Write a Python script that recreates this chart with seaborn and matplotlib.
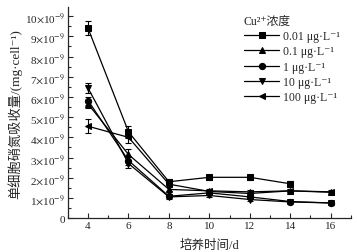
import numpy as np
import pandas as pd
import matplotlib
matplotlib.use("Agg")
import matplotlib.pyplot as plt
from matplotlib.ticker import MultipleLocator, FuncFormatter
import seaborn as sns

# --- Data (values in units of 1e-9 mg/cell) ---
days = [4, 6, 8, 10, 12, 14, 16]
conc_labels = ["0.01 μg·L⁻¹", "0.1 μg·L⁻¹", "1 μg·L⁻¹",
               "10 μg·L⁻¹", "100 μg·L⁻¹"]
c001 = [9.4, 4.27, 1.8, 2.02, 2.02, 1.7, np.nan]
c01 = [5.65, 3.15, 1.42, 1.35, 1.3, 1.35, 1.28]
c1 = [5.82, 2.85, 1.08, 1.25, 1.05, 0.82, 0.75]
c10 = [6.44, 2.7, 1.05, 1.12, 0.92, 0.8, 0.75]
c100 = [4.55, 4.0, 1.68, 1.32, 1.22, 1.35, 1.3]
err001 = [0.35, 0.3, 0.12, 0.12, 0.12, 0.12, 0]
err01 = [0.2, 0.25, 0.1, 0.1, 0.1, 0.08, 0.08]
err1 = [0.2, 0.2, 0.08, 0.08, 0.08, 0.08, 0.08]
err10 = [0.25, 0.2, 0.08, 0.08, 0.08, 0.08, 0.08]
err100 = [0.35, 0.3, 0.1, 0.08, 0.08, 0.08, 0.08]
markers = ["s", "^", "o", "v", "<"]

series = [c001, c01, c1, c10, c100]
errors = [err001, err01, err1, err10, err100]

rows = []
for lab, vals in zip(conc_labels, series):
    for d, v in zip(days, vals):
        if not np.isnan(v):
            rows.append({"day": d, "value": v, "conc": lab})
df = pd.DataFrame(rows)

sns.set_style("ticks")
plt.rcParams["font.family"] = ["Liberation Serif", "DejaVu Serif", "Noto Sans CJK SC"]
plt.rcParams["mathtext.fontset"] = "stix"
plt.rcParams["axes.unicode_minus"] = False

fig = plt.figure(figsize=(3.57, 2.53), dpi=100)
ax = fig.add_axes([0.19, 0.134, 0.793, 0.834])

for lab, vals, err in zip(conc_labels, series, errors):
    ax.errorbar(days, vals, yerr=err, fmt="none", ecolor="black",
                elinewidth=0.8, capsize=2.2, capthick=0.8, zorder=2)

sns.lineplot(data=df, x="day", y="value", hue="conc", style="conc",
             markers=dict(zip(conc_labels, markers)), dashes=False,
             palette=["black"] * 5, markersize=4.5, linewidth=0.9,
             markeredgecolor="black", ax=ax, zorder=3)

ax.set_xlim(3, 17)
ax.set_ylim(0, 10.45)
ax.xaxis.set_major_locator(MultipleLocator(2))
ax.xaxis.set_minor_locator(MultipleLocator(1))
ax.yaxis.set_major_locator(MultipleLocator(1))
ax.yaxis.set_minor_locator(MultipleLocator(0.5))
ax.yaxis.set_major_formatter(FuncFormatter(
    lambda v, p: "0" if v == 0 else r"%d$\times$10$^{-9}$" % round(v)))
ax.tick_params(which="both", direction="in", labelsize=8, width=0.8)
ax.tick_params(which="major", length=3.5, pad=2)
ax.tick_params(which="minor", length=2)
for s in ["top", "right"]:
    ax.spines[s].set_visible(False)
for s in ["left", "bottom"]:
    ax.spines[s].set_linewidth(0.9)

ax.set_xlabel("培养时间/d", fontsize=9, labelpad=6)
ax.set_ylabel("单细胞硝氮吸收量/(mg·cell⁻¹)", fontsize=9.5, labelpad=2)

handles, labels = ax.get_legend_handles_labels()
leg = ax.legend(handles, labels, title="Cu²⁺浓度", frameon=False,
                fontsize=8.5, title_fontsize=8.5, loc="upper right",
                bbox_to_anchor=(0.99, 1.0), handlelength=3.0,
                labelspacing=0.28, borderpad=0.2, handletextpad=0.3)
leg._legend_box.align = "left"
leg._legend_box.sep = 2

fig.savefig("out.png", dpi=100)
